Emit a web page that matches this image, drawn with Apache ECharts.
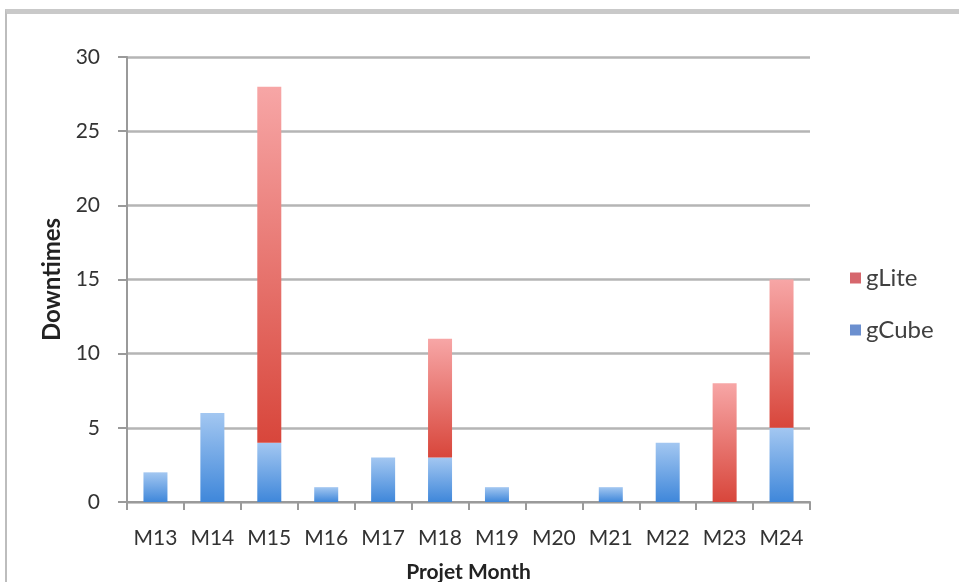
<!DOCTYPE html>
<html>
<head>
<meta charset="utf-8">
<script src="https://cdn.jsdelivr.net/npm/echarts@6/dist/echarts.min.js"></script>
<style>
  html, body { margin: 0; padding: 0; background: #fff; }
  #frame { position: absolute; left: 5px; top: 9px; width: 960px; height: 580px;
           border-top: 5px solid #c9c9c9; border-left: 2px solid #bdbdbd; box-sizing: border-box; }
  #chart { position: absolute; left: 0; top: 0; width: 959px; height: 582px; }
</style>
</head>
<body>
<div id="frame"></div>
<div id="chart"></div>
<script>
// Monthly downtimes per middleware, stacked
const months = ['M13', 'M14', 'M15', 'M16', 'M17', 'M18', 'M19', 'M20', 'M21', 'M22', 'M23', 'M24'];
const gCube = [2, 6, 4, 1, 3, 3, 1, 0, 1, 4, 0, 5];
const gLite = [0, 0, 24, 0, 0, 8, 0, 0, 0, 0, 8, 10];
const yTicks = { min: 0, max: 30, interval: 5 };

const font = 'Lato, "Open Sans", sans-serif';

function grad(top, bottom) {
  return new echarts.graphic.LinearGradient(0, 0, 0, 1, [
    { offset: 0, color: top },
    { offset: 1, color: bottom }
  ]);
}

const chart = echarts.init(document.getElementById('chart'), null, { renderer: 'canvas' });
chart.setOption({
  animation: false,
  backgroundColor: 'transparent',
  grid: { left: 127, right: 149, top: 57, bottom: 80, outerBoundsMode: 'none', containLabel: false },
  legend: {
    orient: 'vertical',
    left: 845,
    top: 261,
    itemWidth: 11,
    itemHeight: 11,
    itemGap: 28,
    icon: 'rect',
    textStyle: { fontFamily: font, fontSize: 24, lineHeight: 24, color: '#404040' },
    data: [
      { name: 'gLite', itemStyle: { color: '#d6676d' } },
      { name: 'gCube', itemStyle: { color: '#6b8fcf' } }
    ]
  },
  xAxis: {
    type: 'category',
    data: months,
    name: 'Projet Month',
    nameLocation: 'middle',
    nameGap: 60,
    nameTextStyle: { fontFamily: font, fontSize: 21, fontWeight: 'bold', color: '#222' },
    axisLine: { lineStyle: { color: '#9a9a9a', width: 2 } },
    axisTick: { show: true, length: 8, lineStyle: { color: '#9a9a9a', width: 2 } },
    axisLabel: { interval: 0, margin: 26, fontFamily: font, fontSize: 21, color: '#333' }
  },
  yAxis: {
    type: 'value',
    min: yTicks.min,
    max: yTicks.max,
    interval: yTicks.interval,
    name: 'Downtimes',
    nameLocation: 'middle',
    nameGap: 62,
    nameTextStyle: { fontFamily: font, fontSize: 24, fontWeight: 'bold', color: '#222' },
    axisLine: { show: true, lineStyle: { color: '#9a9a9a', width: 2 } },
    axisTick: { show: true, length: 9, lineStyle: { color: '#9a9a9a', width: 2 } },
    axisLabel: { margin: 27, fontFamily: font, fontSize: 21, color: '#333' },
    splitLine: { lineStyle: { color: '#b5b5b5', width: 2.5 } }
  },
  series: [
    {
      name: 'gCube',
      type: 'bar',
      stack: 'total',
      barWidth: 24,
      data: gCube,
      itemStyle: { color: grad('#a3c7f1', '#3f87da') }
    },
    {
      name: 'gLite',
      type: 'bar',
      stack: 'total',
      barWidth: 24,
      data: gLite,
      itemStyle: { color: grad('#f7a6a6', '#d8463b') }
    }
  ]
});
</script>
</body>
</html>
